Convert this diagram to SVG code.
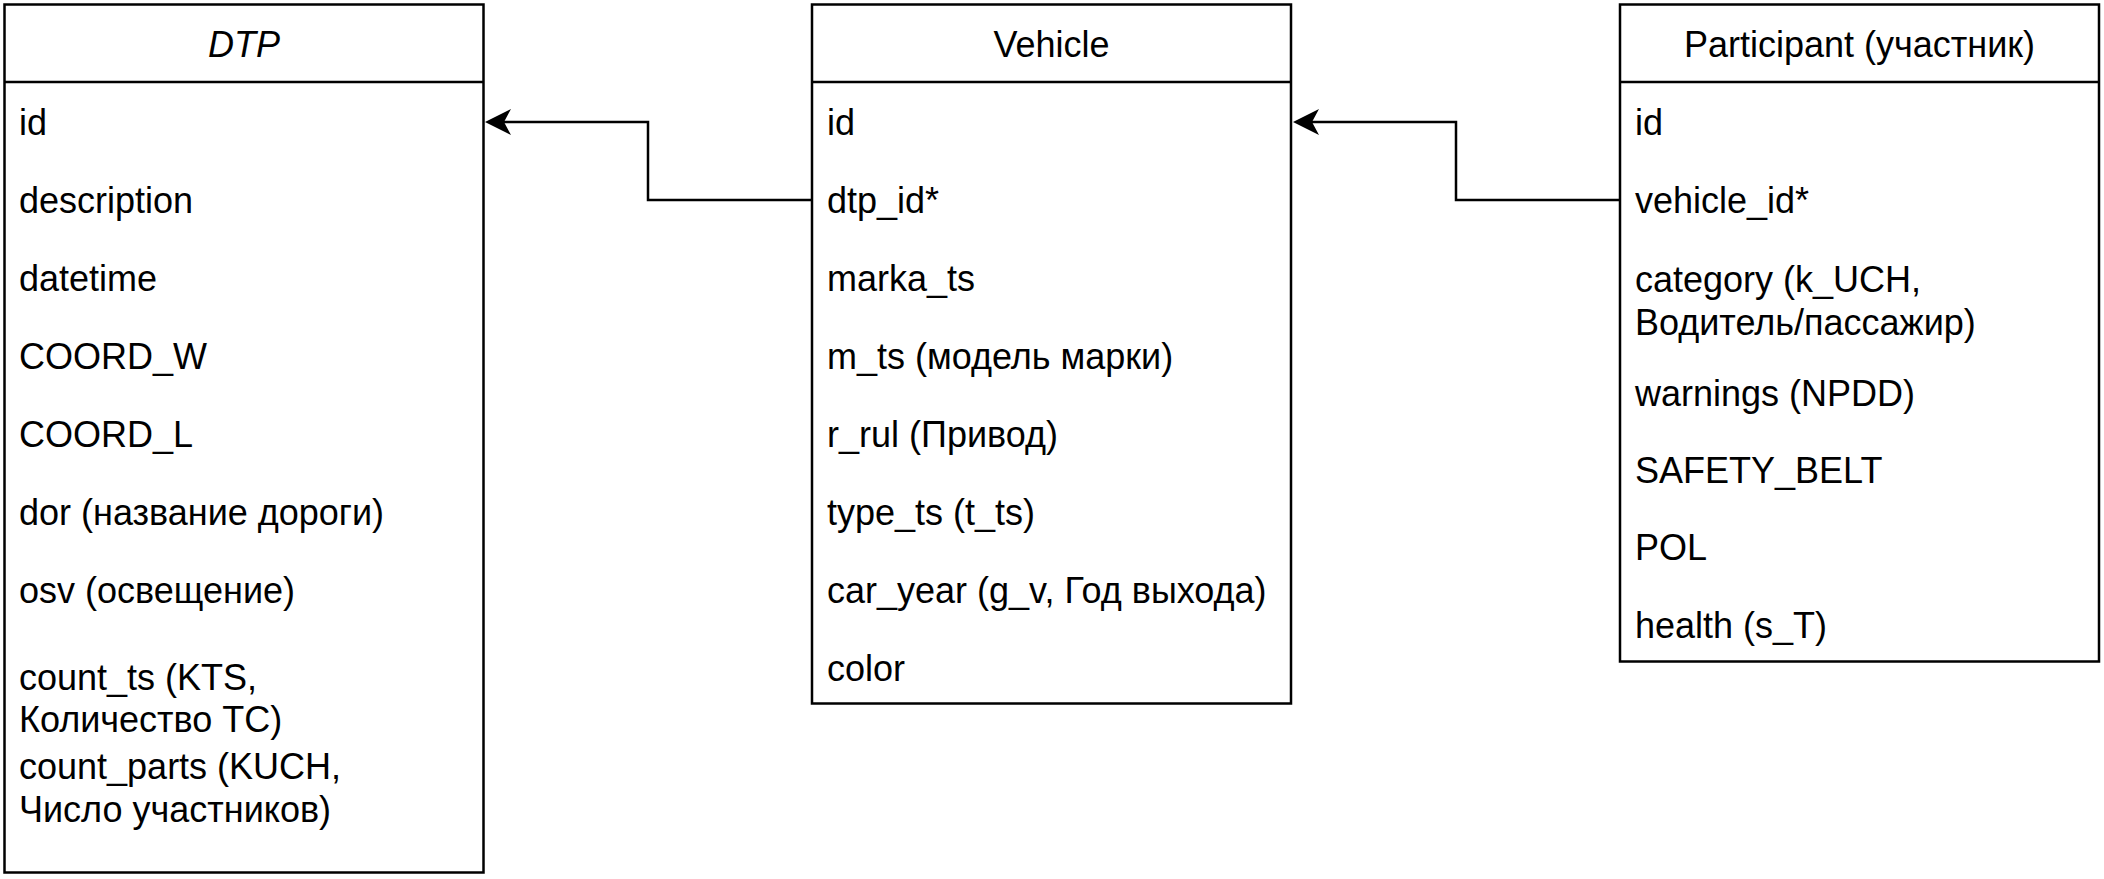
<svg xmlns="http://www.w3.org/2000/svg" width="2104" height="879" viewBox="0 0 2104 879">
  <style>
    .box { fill: #ffffff; stroke: #000000; stroke-width: 2.5; }
    .div { stroke: #000000; stroke-width: 2.5; fill: none; }
    .hdr { font-family: "Liberation Sans", Arial, Helvetica, sans-serif; font-size: 36px; fill: #000; text-anchor: middle; }
    .row { font-family: "Liberation Sans", Arial, Helvetica, sans-serif; font-size: 36px; fill: #000; }
    .conn { fill: none; stroke: #000000; stroke-width: 2.5; }
  </style>
  <defs>
    <marker id="arrow" markerUnits="userSpaceOnUse" markerWidth="26" markerHeight="26" viewBox="0 0 26 26" refX="7" refY="13" orient="auto">
      <path d="M0,0 L26,13 L0,26 L7,13 Z" fill="#000000" stroke="none"/>
    </marker>
  </defs>
  <rect width="2104" height="879" fill="#ffffff"/>

  <g id="node-dtp">
    <rect class="box" x="4.5" y="4.5" width="479" height="868"/>
    <line class="div" x1="4.5" y1="82" x2="483.5" y2="82"/>
    <text class="hdr" x="244" y="57" font-style="italic">DTP</text>
    <text class="row" x="19" y="135">id</text>
    <text class="row" x="19" y="213">description</text>
    <text class="row" x="19" y="291">datetime</text>
    <text class="row" x="19" y="369">COORD_W</text>
    <text class="row" x="19" y="447">COORD_L</text>
    <text class="row" x="19" y="525">dor (название дороги)</text>
    <text class="row" x="19" y="603">osv (освещение)</text>
    <text class="row" x="19" y="690">count_ts (KTS,</text>
    <text class="row" x="19" y="732">Количество ТС)</text>
    <text class="row" x="19" y="779">count_parts (KUCH,</text>
    <text class="row" x="19" y="822">Число участников)</text>
  </g>

  <g id="node-vehicle">
    <rect class="box" x="812" y="4.5" width="479" height="699"/>
    <line class="div" x1="812" y1="82" x2="1291" y2="82"/>
    <text class="hdr" x="1051.5" y="57">Vehicle</text>
    <text class="row" x="827" y="135">id</text>
    <text class="row" x="827" y="213">dtp_id*</text>
    <text class="row" x="827" y="291">marka_ts</text>
    <text class="row" x="827" y="369">m_ts (модель марки)</text>
    <text class="row" x="827" y="447">r_rul (Привод)</text>
    <text class="row" x="827" y="525">type_ts (t_ts)</text>
    <text class="row" x="827" y="603">car_year (g_v, Год выхода)</text>
    <text class="row" x="827" y="681">color</text>
  </g>

  <g id="node-participant">
    <rect class="box" x="1620" y="4.5" width="479" height="657"/>
    <line class="div" x1="1620" y1="82" x2="2099" y2="82"/>
    <text class="hdr" x="1859.5" y="57">Participant (участник)</text>
    <text class="row" x="1635" y="135">id</text>
    <text class="row" x="1635" y="213">vehicle_id*</text>
    <text class="row" x="1635" y="292">category (k_UCH,</text>
    <text class="row" x="1635" y="335">Водитель/пассажир)</text>
    <text class="row" x="1635" y="406">warnings (NPDD)</text>
    <text class="row" x="1635" y="483">SAFETY_BELT</text>
    <text class="row" x="1635" y="560">POL</text>
    <text class="row" x="1635" y="638">health (s_T)</text>
  </g>

  <g id="connectors">
    <path class="conn" d="M812,200 H648 V122 H504" marker-end="url(#arrow)"/>
    <path class="conn" d="M1620,200 H1456 V122 H1312" marker-end="url(#arrow)"/>
  </g>
</svg>
